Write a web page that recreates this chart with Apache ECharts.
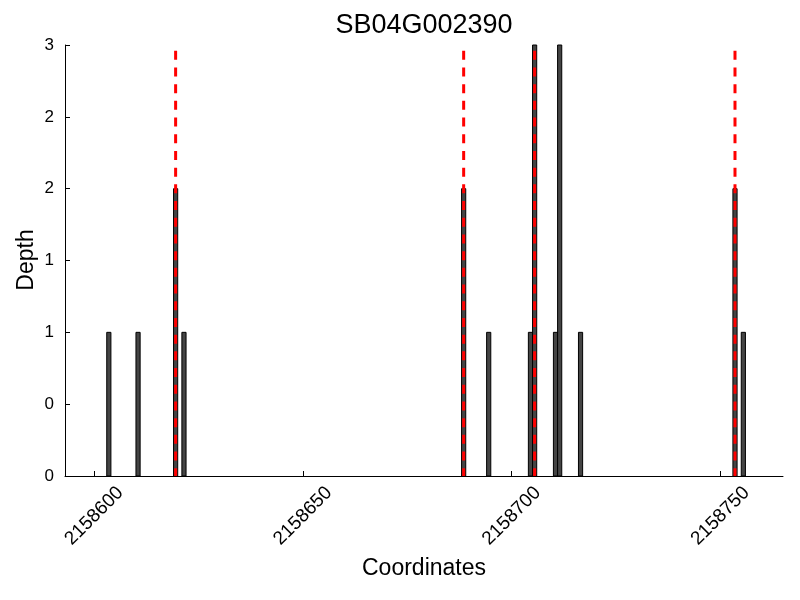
<!DOCTYPE html>
<html><head><meta charset="utf-8">
<script src="https://cdn.jsdelivr.net/npm/echarts@6/dist/echarts.min.js"></script>
<style>html,body{margin:0;padding:0;background:#fff}#c{width:800px;height:600px}</style>
</head><body><div id="c"></div>
<script>
const chartTitle = 'SB04G002390';
const xName = 'Coordinates';
const yName = 'Depth';
const positions = [2158603, 2158610, 2158619, 2158621, 2158688, 2158694, 2158704, 2158705, 2158710, 2158711, 2158716, 2158753, 2158755];
const depths = [1, 1, 2, 1, 2, 1, 1, 3, 1, 3, 1, 2, 1];
const boundaries = [2158619.5, 2158688.5, 2158705.5, 2158753.5];
const boundaryTop = 2.96;
const xTicks = [2158600, 2158650, 2158700, 2158750];
const yTicks = [0, 0.5, 1, 1.5, 2, 2.5, 3];

const FONT = 'Liberation Sans';
const chart = echarts.init(document.getElementById('c'), null, {renderer: 'canvas'});
chart.setOption({
  animation: false,
  backgroundColor: '#fff',
  title: {
    text: chartTitle, left: 424, top: 12, padding: 0, textAlign: 'center',
    textStyle: {fontFamily: FONT, fontSize: 27, fontWeight: 'normal', color: '#000'}
  },
  graphic: [{
    type: 'text', x: 27, y: 260, rotation: Math.PI / 2,
    style: {text: yName, fontFamily: FONT, fontSize: 23, fill: '#000', align: 'center', verticalAlign: 'middle'}
  }],
  grid: {left: 65, right: 17, top: 45, bottom: 124, containLabel: false},
  xAxis: {
    type: 'value', min: 2158593, max: 2158765,
    name: xName, nameLocation: 'middle', nameGap: 81,
    nameTextStyle: {fontFamily: FONT, fontSize: 23, color: '#000'},
    axisLine: {show: true, onZero: false, lineStyle: {color: '#000', width: 1}},
    axisTick: {show: true, inside: true, length: 5, customValues: xTicks, lineStyle: {color: '#000'}},
    axisLabel: {
      customValues: xTicks, rotate: 45, align: 'center', verticalAlign: 'middle', margin: 40,
      fontFamily: FONT, fontSize: 19, color: '#000',
      formatter: v => String(v)
    },
    splitLine: {show: false}
  },
  yAxis: {
    type: 'value', min: 0, max: 3, interval: 0.5,
    axisLine: {show: true, lineStyle: {color: '#000', width: 1}},
    axisTick: {show: true, inside: true, length: 5, lineStyle: {color: '#000'}},
    axisLabel: {
      margin: 11, fontFamily: FONT, fontSize: 17, color: '#000',
      formatter: v => String(Math.floor(v)),
      customValues: yTicks
    },
    splitLine: {show: false}
  },
  series: [
    {
      type: 'custom',
      data: positions.map((p, i) => [p, depths[i]]),
      encode: {x: 0, y: 1},
      renderItem: (params, api) => {
        const x = api.value(0), y = api.value(1);
        const p0 = api.coord([x, 0]);
        const p1 = api.coord([x + 1, y]);
        return {
          type: 'rect',
          shape: {x: p0[0], y: p1[1], width: p1[0] - p0[0], height: p0[1] - p1[1]},
          style: {fill: '#444444', stroke: '#000', lineWidth: 1}
        };
      },
      z: 2
    },
    {
      type: 'custom',
      data: boundaries.map(b => [b, boundaryTop]),
      encode: {x: 0, y: 1},
      renderItem: (params, api) => {
        const x = api.value(0), y = api.value(1);
        const top = api.coord([x, y]);
        const bot = api.coord([x, 0]);
        return {
          type: 'line',
          shape: {x1: top[0], y1: top[1], x2: bot[0], y2: bot[1]},
          style: {stroke: '#ff0000', lineWidth: 3, lineDash: [9, 7.7], lineCap: 'butt'}
        };
      },
      z: 3
    }
  ]
});
</script>
</body></html>
